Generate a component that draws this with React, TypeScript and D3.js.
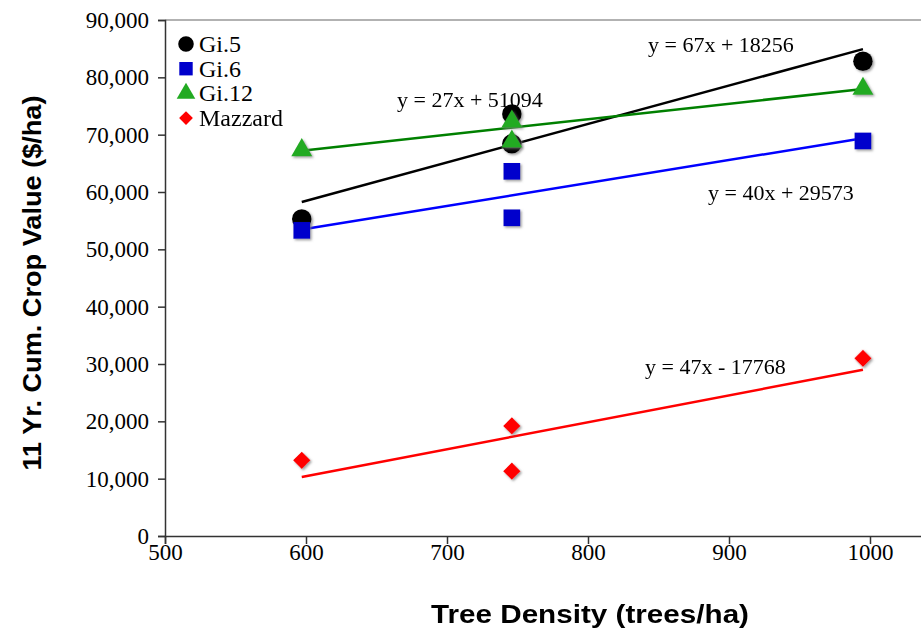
import React, { useEffect, useRef } from "react";
import * as d3 from "d3";

// tree density (trees/ha) and 11 yr cumulative crop value ($/ha)
const densities = [597, 746, 746, 995];
const gi5 = [55300, 73600, 68400, 82800];
const gi6 = [53300, 63600, 55500, 68900];
const gi12 = [67300, 72300, 68800, 78000];
const mazzard = [13200, 19200, 11300, 31000];

const seriesNames = ["Gi.5", "Gi.6", "Gi.12", "Mazzard"];
const seriesColors = ["#000000", "#0000cc", "#22aa22", "#ff0000"];
const lineColors = ["#000000", "#0000ff", "#008000", "#ff0000"];
const slopes = [67, 40, 27, 47];
const intercepts = [18256, 29573, 51094, -17768];
const eqLabels = ["y = 67x + 18256", "y = 40x + 29573", "y = 27x + 51094", "y = 47x - 17768"];
const eqPos = [[648, 52], [708, 200], [397, 107], [645, 374]];

const xTicks = [500, 600, 700, 800, 900, 1000];
const yTicks = d3.range(0, 90001, 10000);

const App = () => {
  const ref = useRef(null);

  useEffect(() => {
    const svg = d3.select(ref.current);
    svg.selectAll("*").remove();

    const left = 165, top = 20, bottom = 536;
    const x = d3.scaleLinear().domain([500, 1100]).range([left, left + 6 * 141]);
    const y = d3.scaleLinear().domain([0, 90000]).range([bottom, top]);

    const serif = "'Liberation Serif', 'Times New Roman', serif";
    const sans = "'Liberation Sans', Arial, sans-serif";

    const shadow = svg.append("defs").append("filter")
      .attr("id", "shadow").attr("x", "-50%").attr("y", "-50%")
      .attr("width", "200%").attr("height", "200%");
    shadow.append("feDropShadow")
      .attr("dx", 1.5).attr("dy", 1.5).attr("stdDeviation", 1.2)
      .attr("flood-color", "#777").attr("flood-opacity", 0.7);

    // top frame line
    svg.append("line")
      .attr("x1", left).attr("x2", 921)
      .attr("y1", top).attr("y2", top)
      .attr("stroke", "#999").attr("stroke-width", 1.5);

    const yAxis = svg.append("g")
      .attr("transform", `translate(${left},0)`)
      .call(d3.axisLeft(y).tickValues(yTicks).tickSize(7).tickPadding(9)
        .tickFormat(d => d3.format(",")(d)));
    const xAxis = svg.append("g")
      .attr("transform", `translate(0,${bottom})`)
      .call(d3.axisBottom(x).tickValues(xTicks).tickSize(8).tickPadding(0)
        .tickFormat(d3.format("d")));

    [xAxis, yAxis].forEach(g => {
      g.attr("font-family", null).attr("font-size", null);
      g.select(".domain").attr("stroke", "#333").attr("stroke-width", 1.5);
      g.selectAll(".tick line").attr("stroke", "#333").attr("stroke-width", 1.5);
      g.selectAll("text")
        .style("font-family", serif).style("font-size", "23px").attr("fill", "#000");
    });

    const all = [gi5, gi6, gi12, mazzard];

    // trend lines from the fitted equations
    all.forEach((vals, i) => {
      const x0 = d3.min(densities), x1 = d3.max(densities);
      svg.append("line")
        .attr("x1", x(x0)).attr("y1", y(slopes[i] * x0 + intercepts[i]))
        .attr("x2", x(x1)).attr("y2", y(slopes[i] * x1 + intercepts[i]))
        .attr("stroke", lineColors[i]).attr("stroke-width", 2.5);
    });

    const symbols = [
      d3.symbol().type(d3.symbolCircle).size(300),
      d3.symbol().type(d3.symbolSquare).size(280),
      d3.symbol().type(d3.symbolTriangle).size(190),
      d3.symbol().type(d3.symbolSquare).size(150),
    ];

    // points
    all.forEach((vals, i) => {
      svg.append("g").attr("filter", "url(#shadow)").selectAll("path")
        .data(vals)
        .join("path")
        .attr("d", symbols[i]())
        .attr("transform", (d, j) => `translate(${x(densities[j])},${y(d)})${i === 3 ? " rotate(45)" : ""}`)
        .attr("fill", seriesColors[i]);
    });

    // equations
    eqLabels.forEach((t, i) => {
      svg.append("text")
        .attr("x", eqPos[i][0]).attr("y", eqPos[i][1])
        .style("font-family", serif).style("font-size", "22px")
        .text(t);
    });

    // legend
    const legendSymbols = [
      d3.symbol().type(d3.symbolCircle).size(190),
      d3.symbol().type(d3.symbolSquare).size(180),
      d3.symbol().type(d3.symbolTriangle).size(150),
      d3.symbol().type(d3.symbolSquare).size(95),
    ];
    seriesNames.forEach((name, i) => {
      const yy = 44 + i * 24.7;
      svg.append("path").attr("d", legendSymbols[i]())
        .attr("transform", `translate(186,${yy})${i === 3 ? " rotate(45)" : ""}`)
        .attr("fill", seriesColors[i]);
      svg.append("text").attr("x", 199).attr("y", yy + 8)
        .style("font-family", serif).style("font-size", "24px").text(name);
    });

    // axis titles
    svg.append("text")
      .attr("x", 590).attr("y", 623)
      .attr("text-anchor", "middle")
      .style("font-family", sans).style("font-weight", "bold").style("font-size", "25px")
      .attr("textLength", 318).attr("lengthAdjust", "spacingAndGlyphs")
      .text("Tree Density (trees/ha)");
    svg.append("text")
      .attr("transform", "translate(41,283) rotate(-90)")
      .attr("text-anchor", "middle")
      .style("font-family", sans).style("font-weight", "bold").style("font-size", "25px")
      .attr("textLength", 375).attr("lengthAdjust", "spacingAndGlyphs")
      .text("11 Yr. Cum. Crop Value ($/ha)");
  }, []);

  return (
    <svg ref={ref} width={921} height={633}
      style={{ position: "absolute", left: 0, top: 0, background: "#fff" }} />
  );
};

export default App;
